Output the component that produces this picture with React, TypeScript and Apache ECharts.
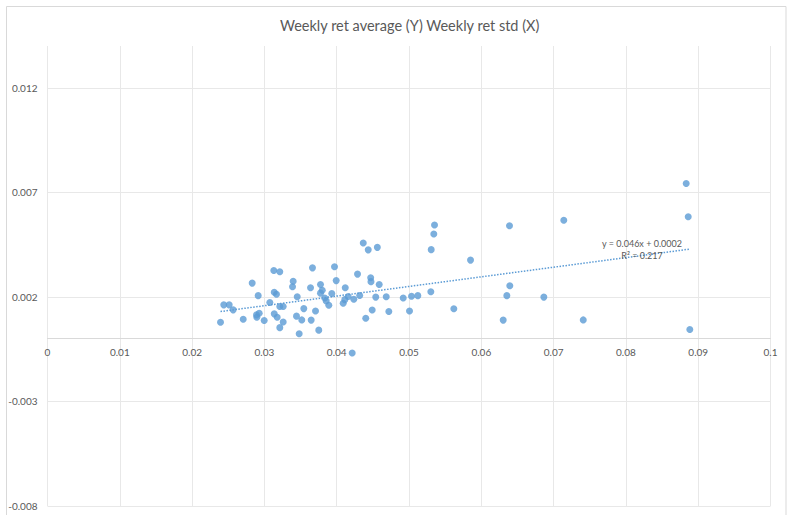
import React, { useEffect, useRef } from "react";
import * as echarts from "echarts";

const TITLE = "Weekly ret average (Y) Weekly ret std (X)";
const retStd: number[] = [
  0.02393, 0.02438, 0.02513, 0.02568, 0.02707, 0.02831, 0.02914, 0.02891, 0.02928, 0.02895,
  0.02997, 0.03075, 0.0313, 0.03213, 0.03136, 0.03167, 0.03136, 0.03177, 0.03213, 0.0326,
  0.03213, 0.0326, 0.03398, 0.03389, 0.03454, 0.03444, 0.03517, 0.03545, 0.03481, 0.03665,
  0.03638, 0.03647, 0.03707, 0.03752, 0.03776, 0.038, 0.03776, 0.03835, 0.03855, 0.03891,
  0.03932, 0.0397, 0.03993, 0.0409, 0.04112, 0.04118, 0.04159, 0.04214, 0.04237, 0.04288,
  0.04318, 0.04367, 0.04436, 0.04562, 0.0447, 0.04474, 0.04402, 0.04491, 0.0454, 0.04588,
  0.04685, 0.04721, 0.0492, 0.05007, 0.05035, 0.05122, 0.05307, 0.05343, 0.05353, 0.05302,
  0.0562, 0.05851, 0.06303, 0.06353, 0.06394, 0.0639, 0.06865, 0.07141, 0.0741, 0.08834,
  0.08862, 0.08884,
];
const retAvg: number[] = [
  0.00079, 0.00162, 0.00162, 0.00138, 0.00093, 0.00266, 0.00206, 0.00114, 0.00122, 0.00103,
  0.00087, 0.00173, 0.00326, 0.0032, 0.00222, 0.00213, 0.00119, 0.00103, 0.00154, 0.00154,
  0.00053, 0.0008, 0.00275, 0.00249, 0.00201, 0.00108, 0.0009, 0.00144, 0.00024, 0.00339,
  0.00244, 0.00089, 0.00133, 0.00041, 0.00259, 0.00232, 0.00218, 0.00195, 0.00181, 0.0016,
  0.00216, 0.00344, 0.00278, 0.0017, 0.00187, 0.00244, 0.00202, -0.00068, 0.00189, 0.00309,
  0.00207, 0.00458, 0.00425, 0.00437, 0.00292, 0.00273, 0.00098, 0.00137, 0.00199, 0.00259,
  0.00201, 0.0013, 0.00195, 0.00133, 0.00203, 0.00206, 0.00426, 0.00501, 0.00544, 0.00225,
  0.00143, 0.00376, 0.00089, 0.00206, 0.00253, 0.0054, 0.00199, 0.00567, 0.0009, 0.00742,
  0.00583, 0.00044,
];
const TREND_SLOPE = 0.046;
const TREND_INTERCEPT = 0.0002;
const TREND_LABELS = ["y = 0.046x + 0.0002", "R² = 0.217"];

const Y_MIN = -0.008;
const Y_MAX = 0.014;
const GRID_TOP = 46;
const GRID_BOTTOM = 9;
const HEIGHT = 515;

const FONT = "Lato, 'Open Sans', sans-serif";
const TEXT_COLOR = "#595959";
const BLUE = "#5B9BD5";

export default function App() {
  const ref = useRef<HTMLDivElement>(null);
  useEffect(() => {
    document.body.style.margin = "0";
    if (!ref.current) return;
    const chart = echarts.init(ref.current, null, { renderer: "svg" });
    const pts = retStd.map((x, i) => [x, retAvg[i]]);
    const xMin = Math.min(...retStd);
    const xMax = Math.max(...retStd);
    const trend = [
      [xMin, TREND_SLOPE * xMin + TREND_INTERCEPT],
      [xMax, TREND_SLOPE * xMax + TREND_INTERCEPT],
    ];
    const plotH = HEIGHT - GRID_TOP - GRID_BOTTOM;
    const zeroOffset = -plotH * ((0 - Y_MIN) / (Y_MAX - Y_MIN));
    chart.setOption({
      animation: false,
      backgroundColor: "#ffffff",
      textStyle: { fontFamily: FONT },
      title: {
        text: TITLE,
        left: 275,
        top: 13,
        textStyle: { fontFamily: FONT, fontSize: 14.5, fontWeight: "normal", color: TEXT_COLOR },
      },
      grid: {
        left: 47.5,
        right: 16.5,
        top: GRID_TOP,
        bottom: GRID_BOTTOM,
        containLabel: false,
        outerBoundsMode: "none",
      },
      xAxis: {
        type: "value",
        min: 0,
        max: 0.1,
        interval: 0.01,
        position: "bottom",
        offset: zeroOffset,
        axisLine: { show: true, onZero: false, lineStyle: { color: "#d9d9d9", width: 1 } },
        axisTick: { show: false },
        axisLabel: {
          color: TEXT_COLOR,
          fontSize: 10,
          fontFamily: FONT,
          margin: 8,
          formatter: (v: number) => String(+v.toFixed(3)),
        },
        splitLine: { show: true, lineStyle: { color: "#e8e8e8", width: 1 } },
      },
      yAxis: {
        type: "value",
        min: Y_MIN,
        max: Y_MAX,
        interval: 0.005,
        axisLine: { show: false },
        axisTick: { show: false },
        axisLabel: {
          color: TEXT_COLOR,
          fontSize: 10,
          fontFamily: FONT,
          margin: 10,
          showMaxLabel: false,
          formatter: (v: number) => (Math.abs(v - Y_MAX) < 1e-9 ? "" : v.toFixed(3)),
        },
        splitLine: { show: true, showMaxLine: false, lineStyle: { color: "#e8e8e8", width: 1 } },
      },
      graphic: [
        {
          type: "rect",
          shape: { x: 6.5, y: 6.5, width: 779.5, height: 515 },
          style: { fill: "none", stroke: "#d9d9d9", lineWidth: 1 },
          silent: true,
          z: -1,
        },
        {
          type: "text",
          x: 642,
          y: 243,
          style: {
            text: TREND_LABELS[0],
            fill: TEXT_COLOR,
            fontSize: 9,
            fontFamily: FONT,
            align: "center",
            verticalAlign: "middle",
          },
          z: 10,
        },
        {
          type: "text",
          x: 642,
          y: 255,
          style: {
            text: TREND_LABELS[1],
            fill: TEXT_COLOR,
            fontSize: 9,
            fontFamily: FONT,
            align: "center",
            verticalAlign: "middle",
          },
          z: 10,
        },
      ],
      series: [
        {
          type: "scatter",
          data: pts,
          symbolSize: 7,
          itemStyle: { color: BLUE },
          z: 3,
        },
        {
          type: "line",
          data: trend,
          symbol: "none",
          lineStyle: { color: BLUE, width: 1.5, type: [1.5, 1.5] },
          z: 2,
        },
      ],
    });
    return () => chart.dispose();
  }, []);
  return <div ref={ref} style={{ width: 787, height: 515 }} />;
}
